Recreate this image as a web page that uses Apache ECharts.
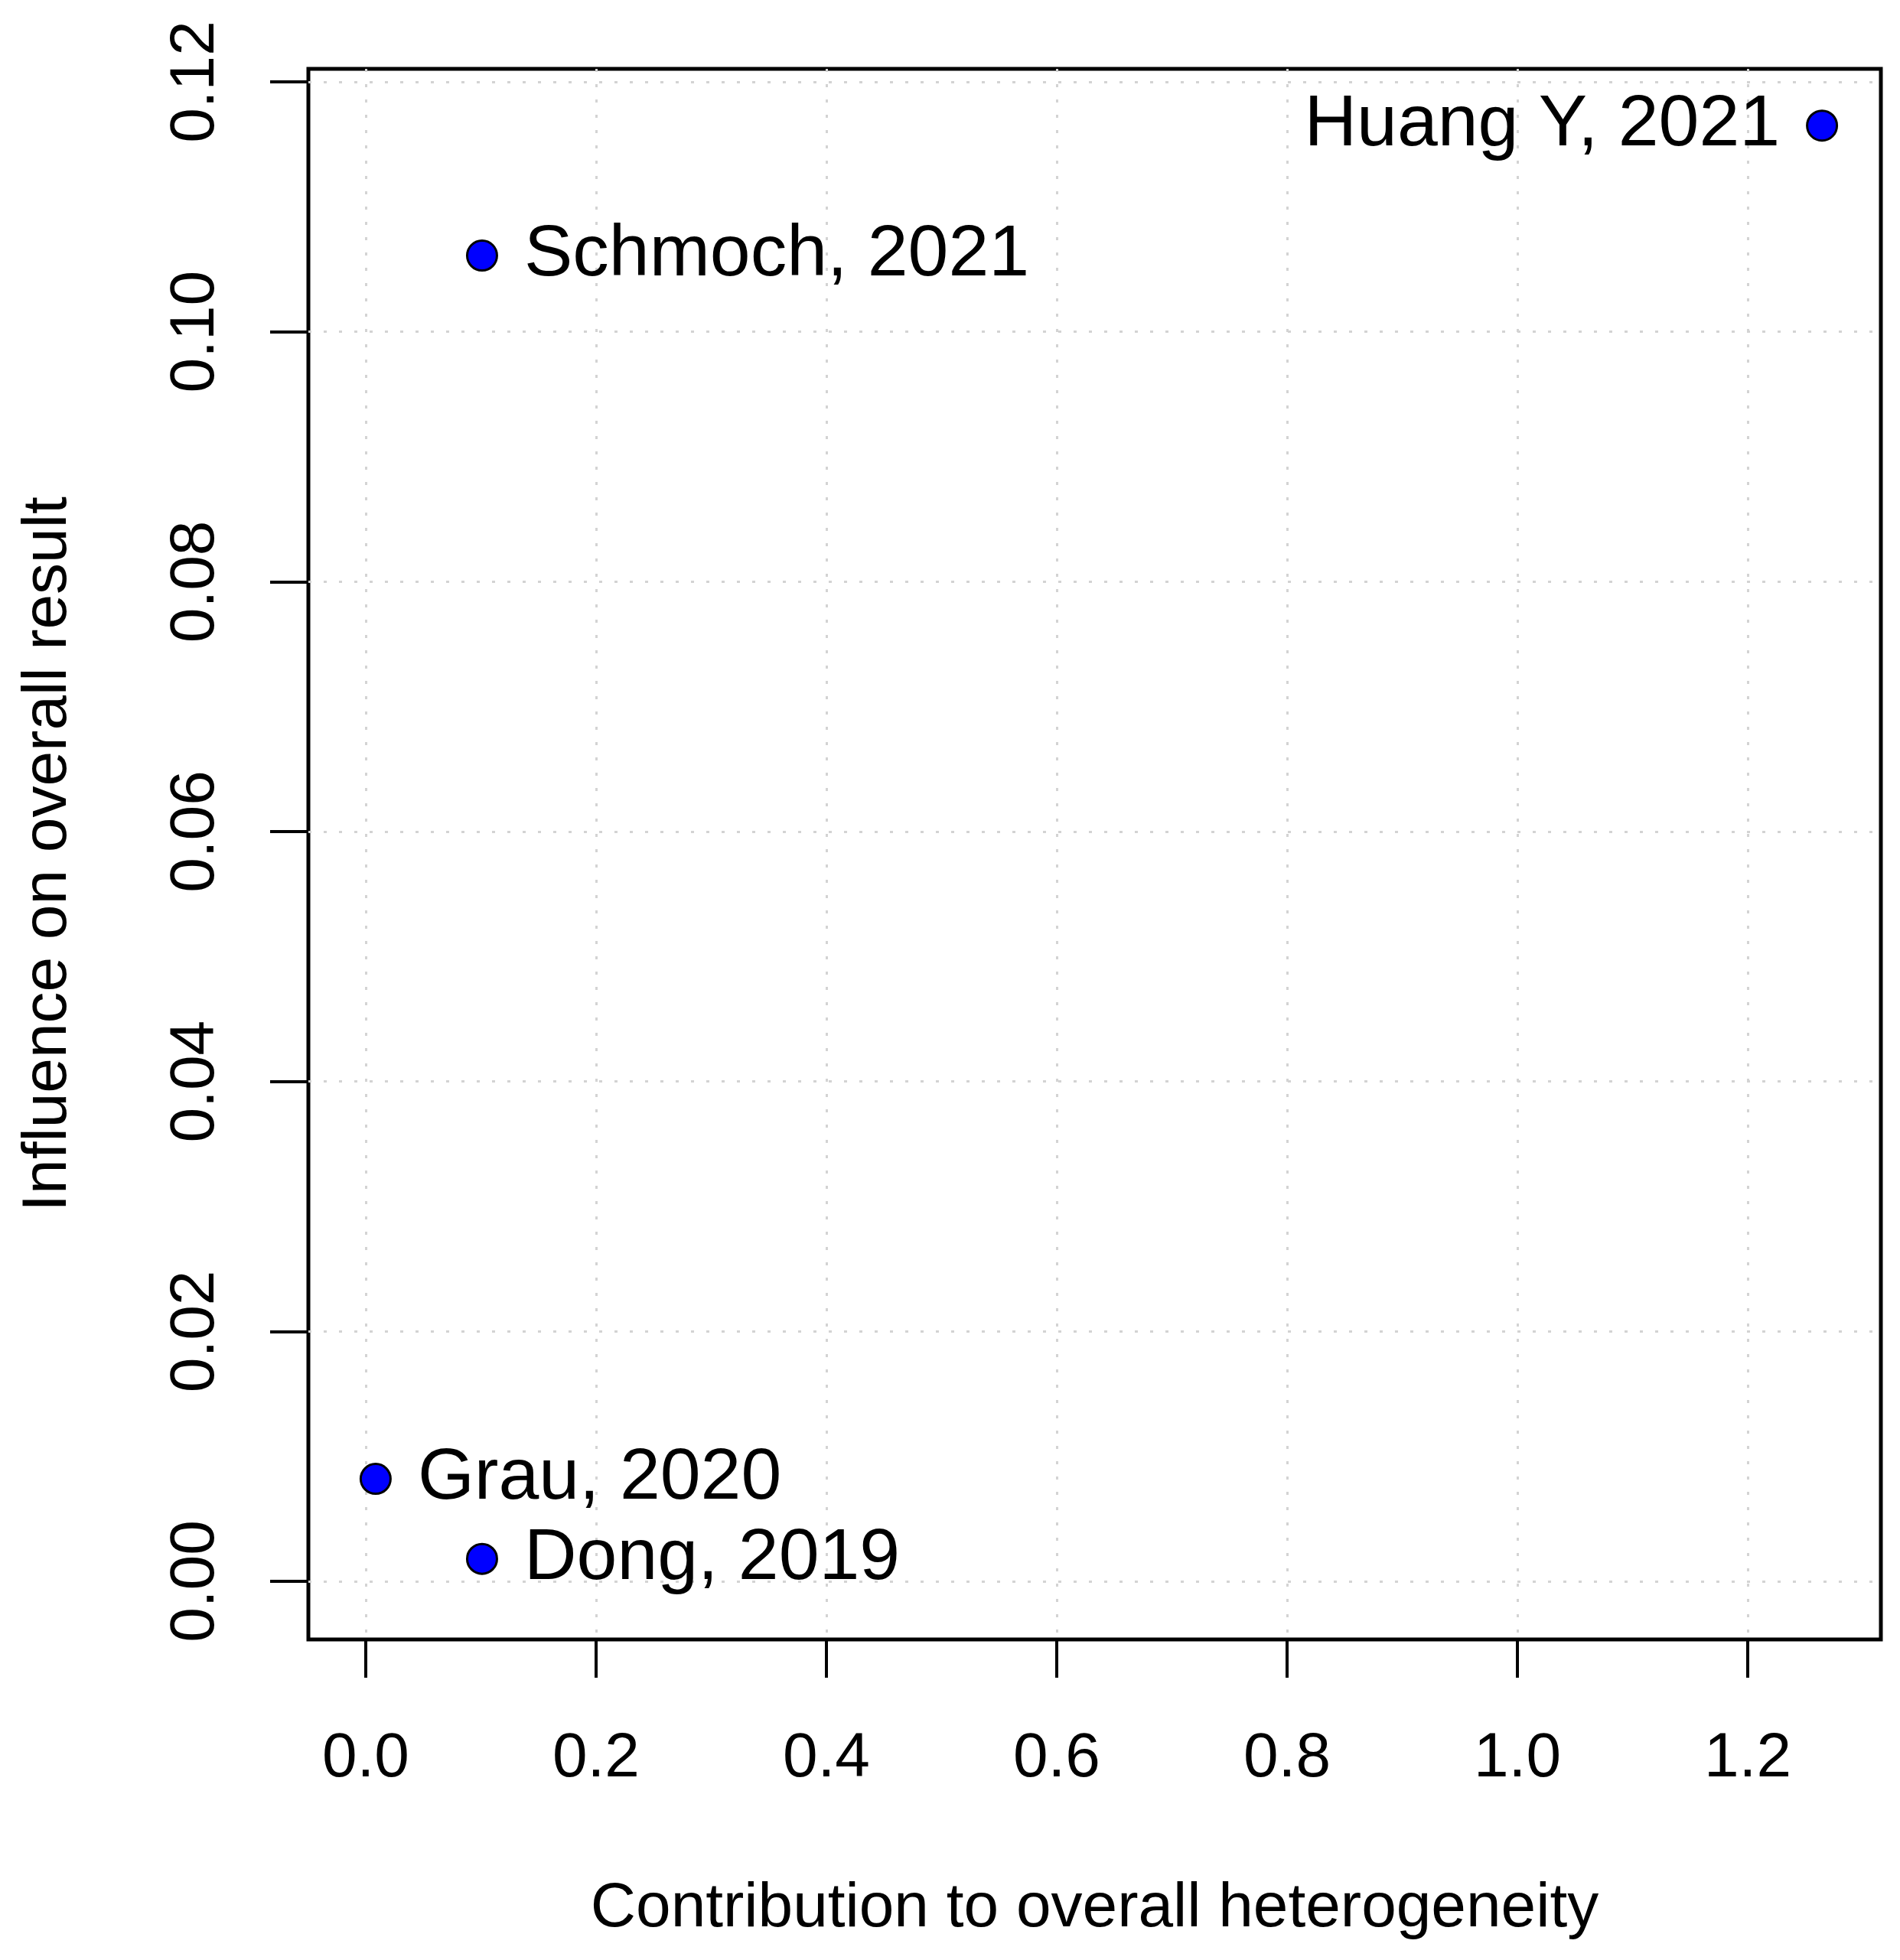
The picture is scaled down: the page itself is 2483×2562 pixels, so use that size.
<!DOCTYPE html>
<html>
<head>
<meta charset="utf-8">
<title>Influence vs heterogeneity</title>
<script src="https://cdn.jsdelivr.net/npm/echarts@6/dist/echarts.min.js"></script>
<style>
  html, body { margin: 0; padding: 0; background: #fff; }
  #chart { width: 2483px; height: 2562px; }
</style>
</head>
<body>
<div id="chart"></div>
<script>
// study labels and their (heterogeneity, influence) values
const studies = ["Huang Y, 2021", "Schmoch, 2021", "Grau, 2020", "Dong, 2019"];
const heterogeneity = [1.2645, 0.101, 0.0086, 0.101];
const influence = [0.1165, 0.1061, 0.0082, 0.0018];
const labelSide = ["left", "right", "right", "right"];

// tick values shown on the axes
const xTicks = [0, 0.2, 0.4, 0.6, 0.8, 1.0, 1.2];
const yTicks = [0, 0.02, 0.04, 0.06, 0.08, 0.10, 0.12];

const FONT = "'Liberation Sans', Arial, sans-serif";

const chart = echarts.init(document.getElementById("chart"), null, { renderer: "canvas" });

const splitStyle = {
  show: true,
  lineStyle: { color: "#d3d3d3", width: 3, type: [4, 16] },
};

const options = {
  backgroundColor: "#fff",
  animation: false,
  grid: {
    left: 403,
    top: 90,
    width: 2055,
    height: 2053,
    show: true,
    borderColor: "#000",
    borderWidth: 5,
    backgroundColor: "transparent",
  },
  xAxis: {
    type: "value",
    min: -0.0498,
    max: 1.3156,
    name: "Contribution to overall heterogeneity",
    nameLocation: "middle",
    nameGap: 311,
    nameTextStyle: { fontFamily: FONT, fontSize: 82, color: "#000" },
    axisLine: { show: false, onZero: false },
    axisTick: {
      show: true,
      length: 50,
      lineStyle: { color: "#000", width: 4 },
      customValues: xTicks,
    },
    axisLabel: {
      fontFamily: FONT,
      fontSize: 82,
      color: "#000",
      margin: 115,
      customValues: xTicks,
      formatter: (v) => v.toFixed(1),
    },
    splitLine: splitStyle,
  },
  yAxis: {
    type: "value",
    min: -0.00465,
    max: 0.12104,
    name: "Influence on overall result",
    nameLocation: "middle",
    nameGap: 299,
    nameRotate: 90,
    nameTextStyle: { fontFamily: FONT, fontSize: 82, color: "#000" },
    axisLine: { show: false, onZero: false },
    axisTick: {
      show: true,
      length: 50,
      lineStyle: { color: "#000", width: 4 },
      customValues: yTicks,
    },
    axisLabel: {
      fontFamily: FONT,
      fontSize: 82,
      color: "#000",
      margin: 106,
      rotate: 90,
      customValues: yTicks,
      formatter: (v) => v.toFixed(2),
    },
    splitLine: splitStyle,
  },
  series: [
    {
      type: "scatter",
      symbol: "circle",
      symbolSize: 39,
      itemStyle: { color: "#0000ff", borderColor: "#000", borderWidth: 3, opacity: 1 },
      emphasis: { disabled: true },
      label: {
        show: true,
        fontFamily: FONT,
        fontSize: 95,
        color: "#000",
        distance: 34,
        formatter: (p) => p.name,
      },
      data: studies.map((name, i) => ({
        name: name,
        value: [heterogeneity[i], influence[i]],
        label: { position: labelSide[i] },
      })),
    },
  ],
};

chart.setOption(options);
</script>
</body>
</html>
